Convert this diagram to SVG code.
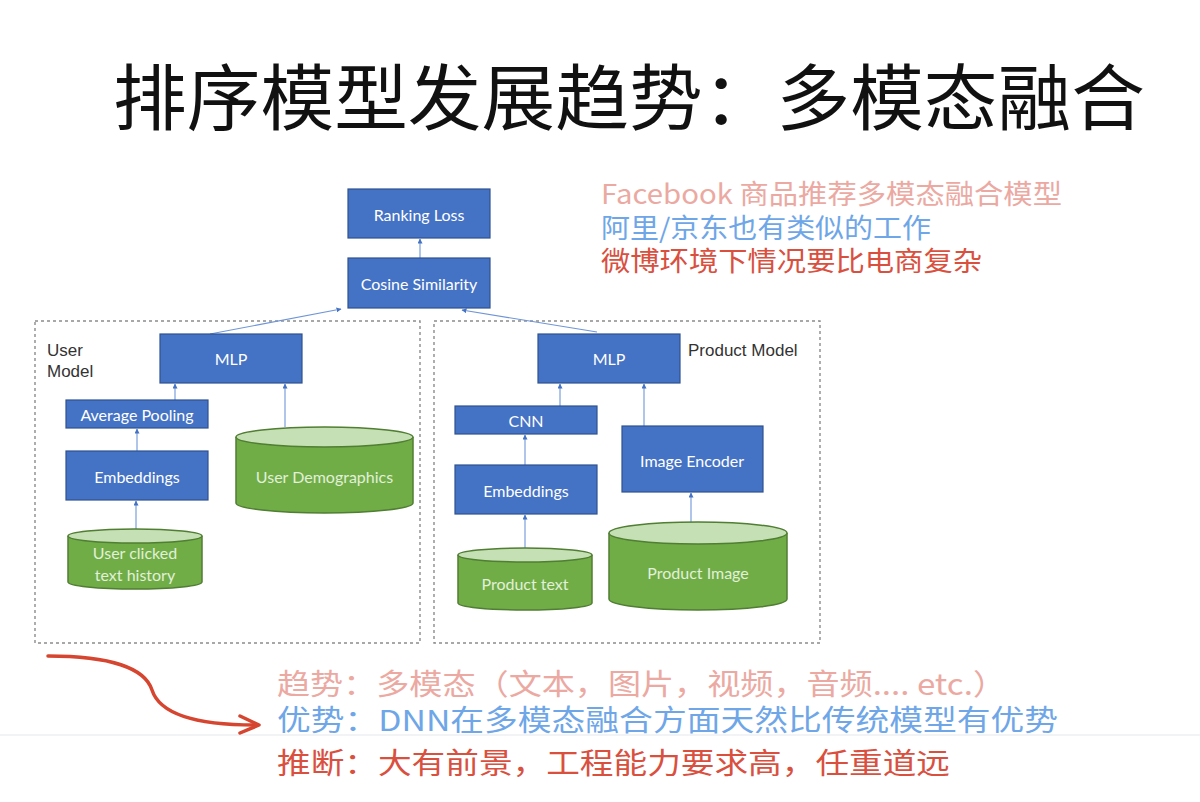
<svg xmlns="http://www.w3.org/2000/svg" width="1200" height="802" viewBox="0 0 1200 802">
<defs>
<marker id="ah" viewBox="0 0 10 10" refX="9" refY="5" markerWidth="5" markerHeight="5" orient="auto-start-reverse" markerUnits="userSpaceOnUse">
<path d="M0,0 L10,5 L0,10 z" fill="#4472C4"/>
</marker>
<style>
.box{fill:#4472C4;stroke:#2F528F;stroke-width:1.2}
.bt{font-family:Lato,"Open Sans","Liberation Sans",sans-serif;font-size:16px;fill:#ffffff;text-anchor:middle;dominant-baseline:central}
.cyl{fill:#70AD47;stroke:#507E32;stroke-width:1.5}
.cylt{fill:#C5E0B4;stroke:#507E32;stroke-width:1.5}
.ct{font-family:Lato,"Open Sans","Liberation Sans",sans-serif;font-size:16px;fill:#E2F0D9;text-anchor:middle;dominant-baseline:central}
.grp{fill:none;stroke:#8c8c8c;stroke-width:1.4;stroke-dasharray:3,3}
.lbl{font-family:"Liberation Sans",Arial,sans-serif;font-size:17px;fill:#333}
.con{stroke:#6E95D8;stroke-width:1.1;fill:none;marker-end:url(#ah)}
.cn{font-family:"Noto Sans CJK SC","Noto Sans",sans-serif}
</style>
</defs>
<rect width="1200" height="802" fill="#ffffff"/>
<line x1="0" y1="735" x2="1200" y2="735" stroke="#e6e8ea" stroke-width="1.2"/>

<text id="title" class="cn" x="113" y="124" font-size="72" fill="#111" textLength="1032" lengthAdjust="spacingAndGlyphs">排序模型发展趋势：多模态融合</text>

<g id="notes-top" class="cn" font-size="27">
<text x="601" y="204" fill="#EBA9A2" textLength="461" lengthAdjust="spacingAndGlyphs">Facebook 商品推荐多模态融合模型</text>
<text x="601" y="238" fill="#6EA6E8" textLength="330" lengthAdjust="spacingAndGlyphs">阿里/京东也有类似的工作</text>
<text x="601" y="271" fill="#D9503F" textLength="381" lengthAdjust="spacingAndGlyphs">微博环境下情况要比电商复杂</text>
</g>

<g id="groups">
<rect id="user-model" class="grp" x="35" y="321" width="385" height="322"/>
<rect id="product-model" class="grp" x="434" y="321" width="386" height="322"/>
<text class="lbl" x="47" y="356">User</text>
<text class="lbl" x="47" y="377">Model</text>
<text class="lbl" x="688" y="356">Product Model</text>
</g>

<g id="connectors">
<line class="con" x1="420" y1="258" x2="420" y2="239"/>
<line class="con" x1="210" y1="334" x2="341" y2="309"/>
<line class="con" x1="597" y1="332" x2="462" y2="310"/>
<line class="con" x1="175" y1="400" x2="175" y2="384"/>
<line class="con" x1="285" y1="427" x2="285" y2="384"/>
<line class="con" x1="137" y1="451" x2="137" y2="429"/>
<line class="con" x1="136" y1="530" x2="136" y2="501"/>
<line class="con" x1="560" y1="406" x2="560" y2="384"/>
<line class="con" x1="644" y1="426" x2="644" y2="384"/>
<line class="con" x1="525" y1="465" x2="525" y2="435"/>
<line class="con" x1="525" y1="548" x2="525" y2="515"/>
<line class="con" x1="691" y1="522" x2="691" y2="493"/>
</g>

<g id="ranking-loss"><rect class="box" x="348" y="189" width="142" height="49"/><text class="bt" x="419" y="214">Ranking Loss</text></g>
<g id="cosine-similarity"><rect class="box" x="348" y="258" width="142" height="50"/><text class="bt" x="419" y="283">Cosine Similarity</text></g>

<g id="user-mlp"><rect class="box" x="160" y="334" width="142" height="49"/><text class="bt" x="231" y="358">MLP</text></g>
<g id="average-pooling"><rect class="box" x="66" y="400" width="142" height="28"/><text class="bt" x="137" y="414">Average Pooling</text></g>
<g id="user-embeddings"><rect class="box" x="66" y="451" width="142" height="49"/><text class="bt" x="137" y="476">Embeddings</text></g>
<g id="user-clicked">
<path class="cyl" d="M68,536 L68,582 A67,7 0 0 0 202,582 L202,536"/>
<ellipse class="cylt" cx="135" cy="536" rx="67" ry="7"/>
<text class="ct" x="135" y="552">User clicked</text>
<text class="ct" x="135" y="574">text history</text>
</g>
<g id="user-demographics">
<path class="cyl" d="M236,437 L236,503 A88.5,10 0 0 0 413,503 L413,437"/>
<ellipse class="cylt" cx="324.5" cy="437" rx="88.5" ry="10"/>
<text class="ct" x="324.5" y="476">User Demographics</text>
</g>

<g id="product-mlp"><rect class="box" x="538" y="334" width="142" height="49"/><text class="bt" x="609" y="358">MLP</text></g>
<g id="cnn"><rect class="box" x="455" y="406" width="142" height="28"/><text class="bt" x="526" y="420">CNN</text></g>
<g id="product-embeddings"><rect class="box" x="455" y="465" width="142" height="49"/><text class="bt" x="526" y="490">Embeddings</text></g>
<g id="image-encoder"><rect class="box" x="622" y="426" width="141" height="66"/><text class="bt" x="692" y="460">Image Encoder</text></g>
<g id="product-text">
<path class="cyl" d="M458,555 L458,603 A67,7 0 0 0 592,603 L592,555"/>
<ellipse class="cylt" cx="525" cy="555" rx="67" ry="7"/>
<text class="ct" x="525" y="583">Product text</text>
</g>
<g id="product-image">
<path class="cyl" d="M609,533 L609,599 A89,11 0 0 0 787,599 L787,533"/>
<ellipse class="cylt" cx="698" cy="533" rx="89" ry="11"/>
<text class="ct" x="698" y="572">Product Image</text>
</g>

<g id="red-arrow" fill="none" stroke="#D5452F" stroke-width="3.5" stroke-linecap="round" stroke-linejoin="round">
<path d="M48,656 C110,656 145,668 152,690 C160,715 200,725 255,725"/>
<polyline points="240,716 259,725 240,733"/>
</g>

<g id="notes-bottom" class="cn" font-size="29">
<text x="277" y="695" fill="#EBA9A2" textLength="729" lengthAdjust="spacingAndGlyphs">趋势：多模态（文本，图片，视频，音频.... etc.）</text>
<text x="277" y="731" fill="#6EA6E8" textLength="781" lengthAdjust="spacingAndGlyphs">优势：DNN在多模态融合方面天然比传统模型有优势</text>
<text x="277" y="774" fill="#D9503F" textLength="673" lengthAdjust="spacingAndGlyphs">推断：大有前景，工程能力要求高，任重道远</text>
</g>
</svg>
